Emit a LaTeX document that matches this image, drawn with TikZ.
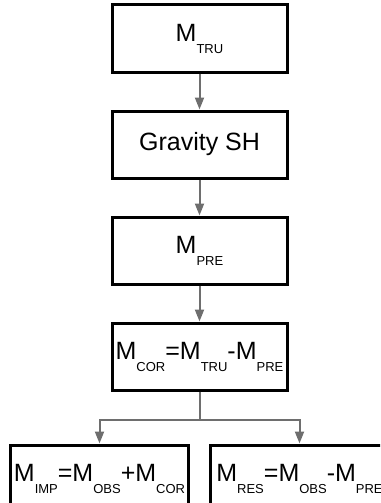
\documentclass[tikz,border=0pt]{standalone}
\usepackage{fontspec}
\setmainfont{Liberation Sans}
\usetikzlibrary{arrows.meta,positioning}
\definecolor{arrowgray}{RGB}{110,110,110}
\newcommand{\msub}[1]{\raisebox{-12pt}{\fontsize{13}{13}\selectfont #1}}

\begin{document}
\begin{tikzpicture}[x=1pt, y=-1pt,
  box/.style={draw, line width=3pt, minimum width=175pt, minimum height=67pt, inner sep=0pt, align=center, font=\fontsize{25}{30}\selectfont},
  wide/.style={box, minimum width=178pt},
  arrow/.style={-{Triangle[length=12pt, width=9pt]}, line width=2pt, draw=arrowgray}
]
\clip (0,0) rectangle (380,503);
\node[box] (tru) at (199.5,38.5) {M\msub{TRU}};
\node[box, below=36pt of tru] (grav) {Gravity SH};
\node[box, below=36pt of grav] (pre) {M\msub{PRE}};
\node[box, below=36pt of pre] (cor) {M\msub{COR}=M\msub{TRU}-M\msub{PRE}};
\node[wide, below=52pt of cor, xshift=-100pt] (imp) {M\msub{IMP}=M\msub{OBS}+M\msub{COR}};
\node[wide, below=52pt of cor, xshift=100pt] (res) {M\msub{RES}=M\msub{OBS}-M\msub{PRE}};
\coordinate[below=28pt of cor] (split);
\draw[arrow] (tru) -- (grav);
\draw[arrow] (grav) -- (pre);
\draw[arrow] (pre) -- (cor);
\draw[arrow] (cor) -- (split) -| (imp);
\draw[arrow] (split) -| (res);
\end{tikzpicture}
\end{document}
